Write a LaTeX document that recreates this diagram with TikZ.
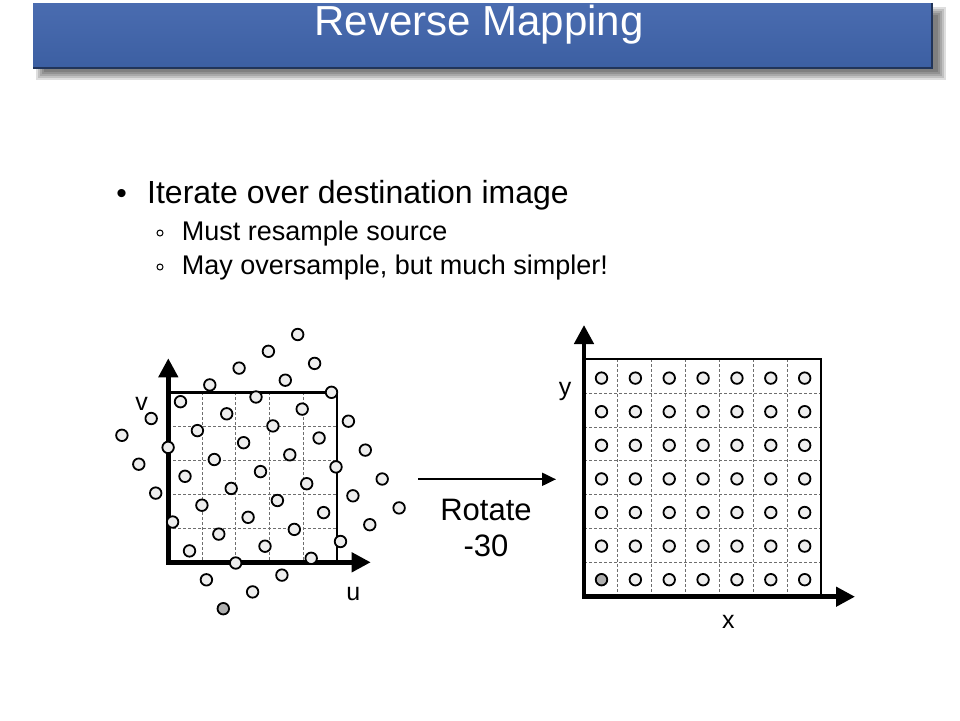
\documentclass[tikz,border=0pt]{standalone}
\usepackage{fontspec}
\setmainfont{Liberation Sans}
\usepackage{tikz}
\usetikzlibrary{arrows.meta, positioning}
\definecolor{barblue}{RGB}{60,95,162}
\definecolor{barlight}{RGB}{74,108,176}
\definecolor{dot0}{RGB}{238,238,238}
\definecolor{dot1}{RGB}{175,175,175}
\definecolor{gridgray}{RGB}{110,110,110}
\tikzset{textnode/.style={inner sep=0pt, anchor=base},
    titlebar/.style={rectangle, inner sep=0pt, minimum width=899pt, minimum height=65pt,
        top color=barlight, bottom color=barblue},
    titletext/.style={textnode, white, font=\fontsize{42}{50}\selectfont},
    bigtext/.style={textnode, anchor=base west, font=\fontsize{32}{38}\selectfont},
    subtext/.style={textnode, anchor=base west, font=\fontsize{27}{32}\selectfont},
    labeltext/.style={textnode, font=\fontsize{25}{30}\selectfont},
    rottext/.style={textnode, font=\fontsize{31}{37}\selectfont},
    subbullet/.style={circle, draw, line width=1pt, inner sep=0pt, minimum size=6pt},
    sample/.style={circle, draw, line width=1.8pt, inner sep=0pt, minimum size=11.5pt},
    axis/.style={{Triangle[length=19pt,width=19pt]}-{Triangle[length=19pt,width=19pt]},
        line width=4.5pt, line join=miter},
    frame/.style={line width=2.5pt},
    gridline/.style={gridgray, line width=0.8pt, dash pattern=on 3pt off 2pt},
    rotarrow/.style={-{Triangle[length=14pt,width=13pt]}, line width=2pt}}

\begin{document}
\begin{tikzpicture}[x=1pt, y=-1pt]
\useasboundingbox (0,0) rectangle (960,720);

% title bar with soft shadow
\foreach \s in {0,2,...,8}
    \fill[black, opacity=0.13] (36+\s,7+\s) rectangle (946-\s,80-\s);
\node[titlebar] (bar) at (482.5,35.5) {};
\draw[barblue!55!black, line width=1.5pt] (bar.north east) -- (bar.south east) -- (bar.south west);
\node[titletext] (title) at (479,35) {Reverse Mapping};

% bullets
\node[textnode, font=\fontsize{30}{36}\selectfont] (dot) at (121.7,203) {•};
\node[bigtext] (iter) at (147,203) {Iterate over destination image};
\node[subbullet] (sba) at (160,233) {};
\node[subtext] (must) at (181.7,240) {Must resample source};
\node[subbullet] (sbb) at (160,267) {};
\node[subtext] (may) at (181.7,274) {May oversample, but much simpler!};

% source grid (u,v)
\coordinate (so) at (168.3,562.3);
\coordinate (su) at (370.7,562.3);
\coordinate (sv) at (168.3,358.3);
\coordinate (sc) at (337,392.3);
\foreach \k in {1,...,4}{
    \draw[gridline] (168.3+33.74*\k,392.3) -- (168.3+33.74*\k,562.3);
    \draw[gridline] (168.3,562.3-34*\k) -- (337,562.3-34*\k);}
\draw[frame] (so) rectangle (sc);
\draw[axis] (sv) -- (so) -- (su);
\node[labeltext] (v) at (141.7,410) {v};
\node[labeltext] (u) at (353.3,600) {u};
\foreach \i in {0,...,6}{
    \foreach \j in {0,...,6}{
        \pgfmathtruncatemacro{\first}{(\i+\j)==0}
        \node[sample, fill=dot\first] (s\i\j) at ({223.3+29.3*\i-16.9*\j},{608.7-16.8*\i-28.9*\j}) {};}}

% rotation
\coordinate (rs) at (418,479.3);
\coordinate (re) at (556,479.3);
\draw[rotarrow] (rs) -- (re);
\node[rottext] (rot) at (486,520) {Rotate};
\node[rottext] (ang) at (486,556.7) {-30};

% destination grid (x,y)
\coordinate (do) at (584,596.7);
\coordinate (dx) at (855,596.7);
\coordinate (dy) at (584,325);
\coordinate (dc) at (821,359);
\foreach \k in {1,...,6}{
    \draw[gridline] (584+33.86*\k,359) -- (584+33.86*\k,596.7);
    \draw[gridline] (584,596.7-33.96*\k) -- (821,596.7-33.96*\k);}
\draw[frame] (do) rectangle (dc);
\draw[axis] (dy) -- (do) -- (dx);
\node[labeltext] (y) at (565,395) {y};
\node[labeltext] (x) at (728.3,628.3) {x};
\foreach \i in {0,...,6}{
    \foreach \j in {0,...,6}{
        \pgfmathtruncatemacro{\first}{(\i+\j)==0}
        \node[sample, fill=dot\first] (d\i\j) at ({601.5+33.86*\i},{579.7-33.6*\j}) {};}}
\end{tikzpicture}
\end{document}
